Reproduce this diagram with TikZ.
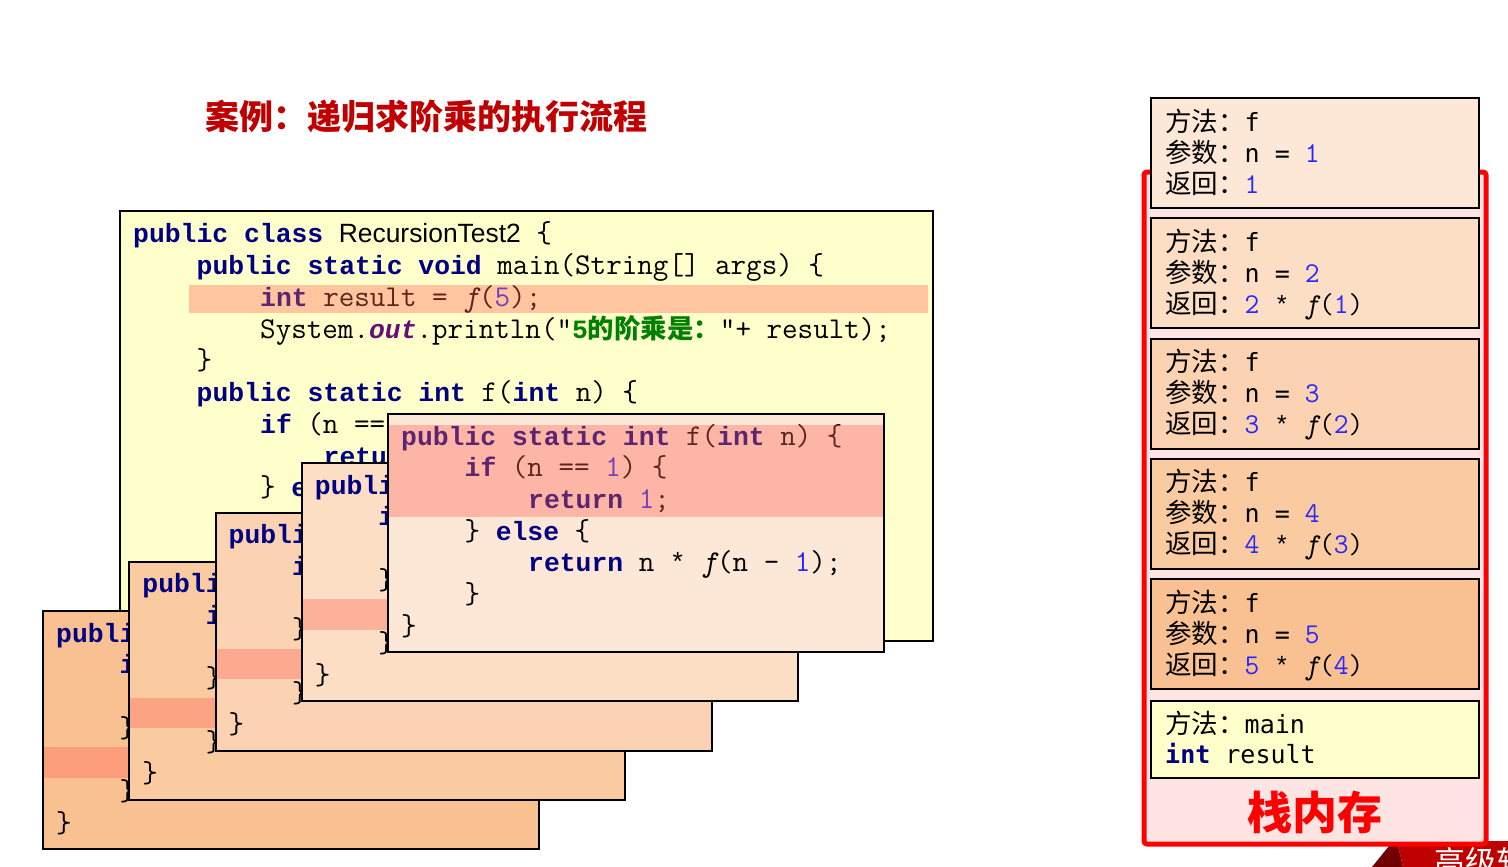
\documentclass[tikz,border=0pt]{standalone}
\usepackage{fontspec}
\setmonofont{Latin Modern Mono}
\newfontfamily\kwf{Liberation Mono}
\newfontfamily\cjk{Noto Sans CJK SC}
\newfontfamily\arialf{Liberation Sans}
\newfontfamily\dvm{DejaVu Sans Mono}
\definecolor{kwc}{RGB}{0,0,128}
\definecolor{numc}{RGB}{40,40,255}
\definecolor{outc}{RGB}{102,14,122}
\definecolor{strc}{RGB}{0,128,0}
\definecolor{mainbg}{RGB}{255,255,204}
\definecolor{bandc}{RGB}{255,99,84}
\definecolor{bxA}{RGB}{249,192,145}
\definecolor{bxB}{RGB}{250,202,160}
\definecolor{bxC}{RGB}{251,211,178}
\definecolor{bxD}{RGB}{252,222,196}
\definecolor{bxE}{RGB}{253,232,215}
\definecolor{titlec}{RGB}{192,0,0}
\definecolor{stackbg}{RGB}{255,228,228}
\definecolor{bannerc}{RGB}{190,0,0}
\definecolor{bannerd}{RGB}{112,0,0}
\newcommand\KW[1]{{\color{kwc}\kwf\bfseries\fontsize{26.4}{32}\selectfont #1}}
\newcommand\NUM[1]{{\color{numc}#1}}
\newcommand\ITF{{\itshape f}}
\newcommand\AST{{\kwf\fontsize{26.4}{32}\selectfont *}}
\newcommand\ASTS{{\kwf\fontsize{25}{30}\selectfont *}}
\newcommand\CJF[1]{{\cjk\fontsize{26.5}{30}\selectfont #1}}
\newcommand\FN[1]{{\ttfamily\fontsize{28.7}{30}\selectfont #1}}
\tikzset{
  codeln/.style={anchor=base west, inner sep=0pt, font=\ttfamily\fontsize{30.2}{32}\selectfont},
  frln/.style={anchor=base west, inner sep=0pt, font=\dvm\fontsize{25}{30}\selectfont},
  codebox/.style={draw=black, line width=2pt},
  band/.style={fill=bandc, fill opacity=0.37},
  frame/.style={draw=black, line width=2pt},
}
\begin{document}
\begin{tikzpicture}[x=1pt, y=-1pt]
\useasboundingbox (0,0) rectangle (1508,867);
\fill[white] (0,0) rectangle (1508,867);

% title
\node[anchor=west, inner sep=0pt, text=titlec, font=\cjk\bfseries\fontsize{34}{40}\selectfont] (title) at (205,117) {案例：递归求阶乘的执行流程};

% main code box
\path[fill=mainbg] (120,211) rectangle (933,641);
\node[codeln] (m1) at (133,242) {\KW{public class} {\arialf\fontsize{26.4}{32}\selectfont RecursionTest2} \{};
\node[codeln] (m2) at (196.5,274) {\KW{public static void} main(String[] args) \{};
\node[codeln] (m3) at (260,306) {\KW{int} result = \ITF(\NUM{5});};
\node[codeln] (m4) at (260,338) {System.{\color{outc}\kwf\bfseries\itshape\fontsize{26.4}{32}\selectfont out}.println("{\color{strc}\kwf\bfseries\fontsize{26.4}{32}\selectfont 5{\cjk 的阶乘是：}}"+ result);};
\node[codeln] (m5) at (196.5,369) {\}};
\node[codeln] (m6) at (196.5,401) {\KW{public static int} f(\KW{int} n) \{};
\begin{scope}
  \clip (120,380) rectangle (388,450);
  \node[codeln] (m7) at (260,433) {\KW{if} (n == \NUM{1}) \{};
\end{scope}
\node[codeln] (m8) at (323.5,465) {\KW{return} \NUM{1};};
\node[codeln] (m9) at (260,496) {\} \KW{else} \{};
\node[codeln] (m10) at (323.5,528) {\KW{return} n \AST{} \ITF(n - \NUM{1});};
\node[codeln] (m11) at (260,560) {\}};
\node[codeln] (m12) at (196.5,592) {\}};
\node[codeln] (m13) at (133,623) {\}};
\path[band] (189,285) rectangle (928,313);
\draw[codebox] (120,211) rectangle (933,641);

% recursive call boxes
\foreach \i/\col/\bt/\bb in {0/bxA/136/166.5, 1/bxB/136/166.5, 2/bxC/136/166.5, 3/bxD/136/166.5, 4/bxE/11/103}{
  \pgfmathsetmacro\X{43+86.25*\i}
  \pgfmathsetmacro\Y{611-49.25*\i}
  \path[fill=\col] (\X,\Y) rectangle ++(496,238);
  \node[codeln] (f\i-1) at (\X+13,\Y+31) {\KW{public static int} f(\KW{int} n) \{};
  \node[codeln] (f\i-2) at (\X+76.5,\Y+62.7) {\KW{if} (n == \NUM{1}) \{};
  \node[codeln] (f\i-3) at (\X+140,\Y+94.4) {\KW{return} \NUM{1};};
  \node[codeln] (f\i-4) at (\X+76.5,\Y+126.1) {\} \KW{else} \{};
  \node[codeln] (f\i-5) at (\X+140,\Y+157.8) {\KW{return} n \AST{} \ITF(n - \NUM{1});};
  \node[codeln] (f\i-6) at (\X+76.5,\Y+189.5) {\}};
  \node[codeln] (f\i-7) at (\X+13,\Y+221.2) {\}};
  \path[band] (\X,\Y+\bt) rectangle (\X+496,\Y+\bb);
  \draw[codebox] (\X,\Y) rectangle ++(496,238);
}

% banner bottom right
\fill[bannerd] (1393,841) -- (1397,841) -- (1403,867) -- (1372,867) -- cycle;
\fill[bannerc] (1397,841) -- (1508,841) -- (1508,867) -- (1403,867) -- cycle;
\node[anchor=west, inner sep=0pt, text=white, font=\cjk\fontsize{31}{36}\selectfont] (ban) at (1434,862) {高级软};

% stack memory
\draw[red, line width=5pt, fill=stackbg, rounded corners=3pt] (1144,172) rectangle (1486,844);
\foreach \n/\col in {1/bxE, 2/bxD, 3/bxC, 4/bxB, 5/bxA}{
  \pgfmathsetmacro\T{98+120.25*(\n-1)}
  \pgfmathtruncatemacro\M{\n-1}
  \draw[frame, fill=\col] (1151,\T) rectangle (1479,\T+110);
  \node[frln] (p\n-1) at (1165,\T+33) {\CJF{方法：}f};
  \node[frln] (p\n-2) at (1165,\T+64) {\CJF{参数：}n = \FN{\NUM{\n}}};
  \node[frln] (p\n-3) at (1165,\T+95) {\CJF{返回：}\ifnum\n=1 \FN{\NUM{1}}\else\FN{\NUM{\n} \ASTS{} {\itshape f}(\NUM{\M})}\fi};
}
\draw[frame, fill=mainbg] (1151,701) rectangle (1479,778);
\node[frln] (pm-1) at (1165,733) {\CJF{方法：}main};
\node[frln] (pm-2) at (1165,763) {{\color{kwc}\bfseries int} result};
\node[text=red, font=\cjk\bfseries\fontsize{45}{50}\selectfont] (stk) at (1315,812) {栈内存};
\end{tikzpicture}
\end{document}
